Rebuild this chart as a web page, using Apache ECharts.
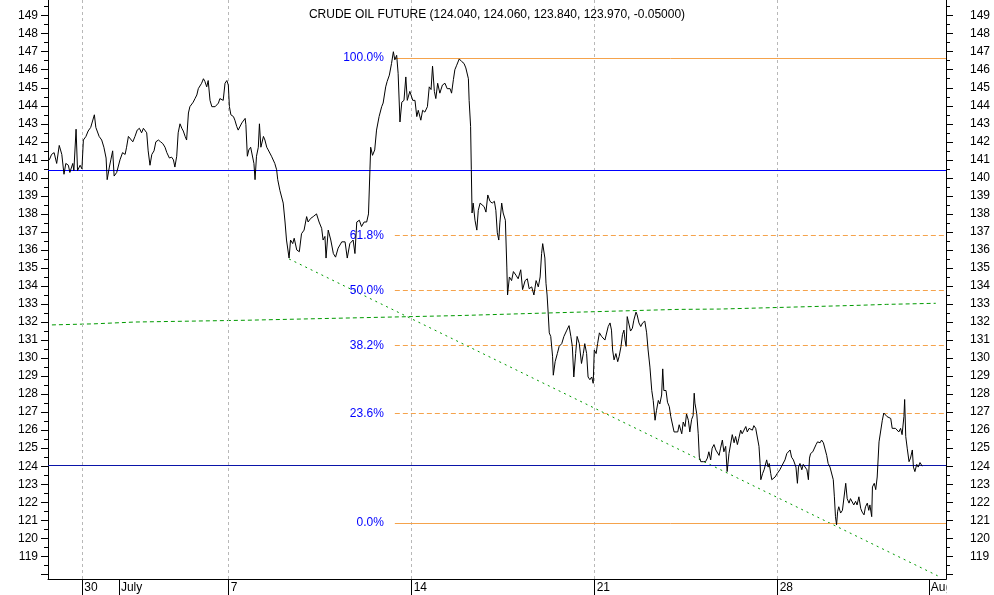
<!DOCTYPE html>
<html><head><meta charset="utf-8">
<script src="https://cdn.jsdelivr.net/npm/echarts@6/dist/echarts.min.js"></script>
<style>html,body{margin:0;padding:0;background:#fff}#c{width:994px;height:595px}</style>
</head><body><div id="c"></div>
<script>
// ---- data ----
const titleText = 'CRUDE OIL FUTURE (124.040, 124.060, 123.840, 123.970, -0.05000)';
// x unit: trading days, 0 = session of Mon 30 June
const tickDays = [0, 1, 4, 9, 14, 19, 23.13];
const tickLabels = ['30', 'July', '7', '14', '21', '28', 'Aug'];
const weekDays = [0, 4, 9, 14, 19];
const xMin = -0.937, xMax = 23.6;
const yMin = 117.74, yMax = 149.87;
const yMajorTicks = Array.from({length: 32}, (_, i) => 118 + i);      // 118..149
const yLabelValues = Array.from({length: 31}, (_, i) => 119 + i);     // 119..149
const yMinorTicks = Array.from({length: 32}, (_, i) => 118.5 + i);    // 118.5..149.5

const priceTimes = [
-0.90,-0.84,-0.77,-0.70,-0.63,-0.56,-0.50,-0.45,-0.38,-0.34,-0.26,-0.23,-0.17,-0.13,-0.06,-0.01,
0.03,0.10,0.16,0.23,0.28,0.33,0.37,0.42,0.46,0.53,0.59,0.65,0.68,0.74,0.78,0.83,0.87,0.94,0.98,
1.03,1.10,1.17,1.21,1.26,1.30,1.38,1.44,1.50,1.56,1.62,1.67,1.71,1.76,1.80,1.85,1.90,1.96,
2.01,2.08,2.14,2.20,2.26,2.31,2.38,2.44,2.49,2.53,2.58,2.62,2.67,2.72,2.76,2.81,2.85,2.90,2.94,2.99,
3.03,3.08,3.13,3.17,3.22,3.26,3.31,3.35,3.40,3.44,3.49,3.54,3.58,3.63,3.67,3.72,3.76,3.81,3.85,3.90,3.95,3.99,
4.02,4.06,4.13,4.17,4.22,4.26,4.31,4.36,4.40,4.45,4.47,4.51,4.55,4.60,4.64,4.69,4.72,4.76,4.81,4.84,4.88,4.95,4.99,
5.04,5.08,5.13,5.17,5.22,5.26,5.31,5.34,5.40,5.49,5.54,5.58,5.65,5.69,5.75,5.79,5.86,5.93,5.99,
6.06,6.13,6.17,6.24,6.31,6.40,6.47,6.54,6.58,6.63,6.66,6.72,6.79,6.86,6.92,6.99,
7.09,7.18,7.24,7.31,7.40,7.45,7.50,7.57,7.63,7.70,7.77,7.82,7.86,7.88,7.93,7.99,
8.04,8.11,8.18,8.22,8.29,8.33,8.39,8.45,8.50,8.54,8.59,8.63,8.68,8.73,8.79,8.84,8.88,8.95,
9.03,9.09,9.14,9.18,9.25,9.30,9.36,9.43,9.48,9.53,9.57,9.62,9.66,9.71,9.77,9.84,9.91,9.97,
10.05,10.09,10.14,10.18,10.23,10.30,10.37,10.43,10.48,10.55,10.57,10.61,10.63,10.65,10.68,10.73,10.78,10.82,10.87,10.91,10.98,
11.03,11.08,11.14,11.20,11.26,11.30,11.34,11.38,11.41,11.46,11.50,11.56,11.60,11.62,11.67,11.73,11.78,11.85,11.91,11.98,
12.03,12.10,12.16,12.21,12.28,12.34,12.40,12.46,12.51,12.55,12.58,12.64,12.67,12.70,12.73,12.76,12.80,12.85,12.87,12.92,12.98,
13.03,13.10,13.16,13.24,13.30,13.35,13.39,13.43,13.48,13.52,13.58,13.64,13.69,13.73,13.78,13.82,13.87,13.92,13.96,13.99,
14.04,14.08,14.13,14.19,14.24,14.28,14.33,14.37,14.42,14.46,14.49,14.53,14.58,14.63,14.67,14.72,14.76,14.80,14.83,14.86,14.89,14.94,14.98,
15.03,15.07,15.13,15.16,15.21,15.26,15.31,15.37,15.42,15.46,15.51,15.56,15.60,15.65,15.69,15.74,15.78,15.83,15.86,15.89,15.95,15.99,
16.04,16.08,16.13,16.17,16.22,16.27,16.31,16.38,16.42,16.47,16.51,16.56,16.60,16.65,16.69,16.72,16.74,16.79,16.83,16.86,16.90,16.97,
17.03,17.08,17.12,17.17,17.21,17.26,17.31,17.35,17.40,17.44,17.49,17.53,17.58,17.62,17.67,17.72,17.76,17.81,17.85,17.90,17.94,17.99,
18.03,18.08,18.13,18.17,18.22,18.26,18.31,18.35,18.40,18.44,18.49,18.52,18.54,18.59,18.63,18.67,18.70,18.74,18.77,18.81,18.84,18.88,18.93,18.99,
19.06,19.11,19.15,19.20,19.25,19.29,19.34,19.38,19.43,19.47,19.50,19.54,19.57,19.61,19.66,19.70,19.75,19.80,19.84,19.87,19.90,19.96,
20.00,20.05,20.09,20.16,20.20,20.25,20.29,20.34,20.38,20.43,20.47,20.52,20.55,20.58,20.61,20.64,20.67,20.72,20.77,20.81,20.86,20.90,20.95,20.99,
21.04,21.08,21.13,21.17,21.22,21.27,21.31,21.36,21.40,21.45,21.49,21.52,21.57,21.59,21.64,21.68,21.72,21.77,21.81,21.86,21.90,21.95,21.99,
22.04,22.09,22.13,22.18,22.22,22.27,22.31,22.36,22.40,22.45,22.47,22.50,22.54,22.59,22.63,22.68,22.71,22.75,22.80,22.84,22.89,22.95
];
const prices = [
141.0,141.3,141.4,140.8,141.8,141.3,140.2,140.8,140.7,140.3,140.8,140.4,142.7,140.4,140.7,140.5,
142.1,142.3,142.6,142.8,142.8,143.5,142.8,142.8,142.3,142.1,141.7,141.1,139.9,140.6,141.0,141.5,140.1,140.3,140.4,
141.0,141.4,141.3,141.7,142.3,142.4,142.0,142.3,142.65,142.75,142.5,142.75,142.65,142.5,141.5,140.7,141.3,141.5,
142.0,142.1,142.0,141.9,141.7,141.4,141.1,141.15,141.0,140.6,141.2,142.5,143.0,142.75,142.6,142.3,142.1,143.6,143.95,144.0,
144.2,144.4,144.6,144.95,145.05,145.25,145.5,145.35,145.05,145.4,144.3,143.95,143.85,143.95,143.85,144.15,144.4,144.5,144.3,145.25,145.4,145.15,
143.95,143.5,143.4,143.2,142.85,142.65,142.75,143.05,142.95,143.3,142.95,141.2,141.55,141.7,141.7,140.8,139.9,141.2,141.7,143.0,141.7,142.3,142.1,
141.7,141.55,141.5,141.2,141.3,140.8,140.45,139.9,139.3,138.6,137.55,136.55,135.55,136.55,136.35,136.65,136.0,135.9,136.9,
137.1,137.85,137.55,137.75,137.85,138.0,137.55,137.2,136.55,136.75,135.55,137.1,136.55,135.8,135.6,136.1,
136.45,136.45,135.55,136.35,136.55,135.8,137.55,137.65,137.3,137.55,137.55,138.0,140.45,141.7,141.25,141.55,
142.65,143.4,143.95,144.15,145.05,145.35,145.7,146.35,147.0,146.55,146.8,145.8,143.1,144.2,144.3,145.6,144.3,144.8,
144.3,144.3,143.4,143.75,143.2,143.75,143.65,143.95,145.05,144.9,146.2,144.8,144.4,145.25,144.7,145.15,145.25,144.95,
144.95,144.7,145.45,146.0,146.25,146.6,146.45,146.35,146.1,145.5,144.3,142.85,140.45,138.05,138.6,137.65,137.1,138.2,138.6,138.7,138.4,
138.1,139.05,138.7,138.6,138.7,138.2,136.95,136.55,137.5,138.6,138.05,137.65,135.05,133.5,134.5,134.3,134.8,134.6,134.4,134.9,
133.8,134.3,134.4,133.85,133.95,133.5,134.3,133.95,134.5,135.8,136.35,135.55,134.15,133.5,132.5,131.4,131.2,130.1,129.05,129.8,130.25,
130.65,130.8,131.2,131.55,131.8,131.2,130.65,128.95,130.25,131.2,130.8,129.7,130.25,130.8,130.25,128.95,128.8,128.95,128.6,130.45,
130.25,130.8,131.4,131.2,131.3,131.0,131.1,131.75,131.95,131.55,130.45,129.9,130.25,129.8,130.1,130.65,131.3,131.55,131.0,130.65,132.3,132.4,131.5,
131.65,132.1,132.55,132.4,131.95,131.75,131.95,132.05,131.4,130.45,129.5,128.2,127.65,126.55,127.1,127.65,127.45,127.95,129.4,128.2,128.2,127.55,
127.3,126.75,126.75,125.9,126.0,125.9,126.3,125.8,126.45,126.2,126.9,126.55,125.9,126.6,126.8,128.05,127.5,126.9,125.8,124.5,124.25,124.25,
124.25,124.45,124.8,124.35,125.0,125.2,124.9,124.8,124.6,125.0,125.45,124.8,125.1,123.7,124.7,124.8,125.75,125.3,125.65,125.2,125.55,126.0,
125.8,126.0,126.2,125.9,126.1,126.2,126.0,126.25,126.1,126.0,125.1,124.15,123.25,123.6,123.8,123.9,124.35,123.95,124.15,123.6,123.25,123.35,123.4,123.6,
123.8,124.0,124.1,124.35,124.7,124.8,124.9,124.5,124.35,124.45,123.95,123.05,123.95,124.15,123.8,124.1,124.15,123.8,123.25,124.45,124.7,124.8,
124.8,125.2,125.35,125.3,125.45,125.3,125.35,124.6,124.15,123.95,123.95,123.25,122.3,121.2,120.75,121.5,121.75,121.4,121.55,121.65,123.05,122.2,121.95,122.2,
122.3,121.85,122.05,121.85,122.3,121.65,121.45,121.3,121.75,121.95,121.55,121.85,121.2,122.85,123.05,122.7,123.4,125.35,125.45,126.55,126.95,126.95,126.75,
126.85,126.65,126.1,126.0,126.1,126.2,125.9,126.1,125.75,126.75,127.7,125.65,125.0,124.25,124.45,124.9,123.95,123.7,124.1,123.95,124.2,124.0
];

const maTimes  = [-0.83, 0.32, 1.44, 4.5, 7.18, 10.32, 12.51, 16.25, 17.42, 21.25, 21.98, 23.11, 23.32];
const maValues = [131.84, 131.9, 132.0, 132.1, 132.22, 132.36, 132.49, 132.70, 132.72, 132.93, 132.98, 133.03, 133.04];

const trendTimes  = [5.65, 23.37];
const trendValues = [135.5, 117.92];

const hLevels = [140.4, 124.04];
const hColors = ['#0000ff', '#0a14a8'];

const fibLow = 120.85, fibHigh = 146.65, fibStart = 8.54;
const fibRatios = [0, 0.236, 0.382, 0.5, 0.618, 1];
const fibLabels = ['0.0%', '23.6%', '38.2%', '50.0%', '61.8%', '100.0%'];
const fibDashed = [false, true, true, true, true, false];

// ---- chart ----
const FONT = 'Liberation Sans, Arial, sans-serif';
const zip = (a, b) => a.map((v, i) => [v, b[i]]);

const markData = [];
weekDays.forEach(d => markData.push({xAxis: d, lineStyle: {color: '#b8b8b8', type: [3, 3], width: 1}, label: {show: false}}));
fibRatios.forEach((r, i) => {
  const lvl = fibLow + (fibHigh - fibLow) * r;
  markData.push([
    {coord: [fibStart, lvl],
     lineStyle: {color: '#f5a34c', width: 1, type: fibDashed[i] ? [5, 3] : 'solid'},
     label: {show: true, position: 'start', distance: 11, formatter: fibLabels[i], color: '#0000ff', fontSize: 12, fontFamily: FONT}},
    {coord: [xMax, lvl]}
  ]);
});
hLevels.forEach((l, i) => markData.push({yAxis: l, lineStyle: {color: hColors[i], width: 1.2, type: 'solid'}, label: {show: false}}));

const yBase = {type: 'value', min: yMin, max: yMax, splitLine: {show: false},
  axisLine: {show: true, onZero: false, lineStyle: {color: '#000', width: 1}}};
const labelStyle = {color: '#000', fontSize: 12, fontFamily: FONT};

const chart = echarts.init(document.getElementById('c'), null, {renderer: 'canvas'});
chart.setOption({
  animation: false,
  backgroundColor: '#fff',
  title: {text: titleText, left: 'center', top: 4, textStyle: {fontSize: 12, fontWeight: 'normal', color: '#000', fontFamily: FONT}},
  grid: {left: 48, right: 48, top: 0, bottom: 16, containLabel: false, outerBoundsMode: 'none'},
  xAxis: {
    type: 'value', min: xMin, max: xMax,
    axisLine: {onZero: false, lineStyle: {color: '#000', width: 1}},
    axisTick: {customValues: tickDays, length: 16, lineStyle: {color: '#000'}},
    axisLabel: Object.assign({customValues: tickDays, align: 'left', margin: 3, padding: [0, 0, 0, 2],
      formatter: v => { let k = 0, best = 1e9; tickDays.forEach((t, i) => { if (Math.abs(t - v) < best) { best = Math.abs(t - v); k = i; } }); return tickLabels[k]; }
    }, labelStyle),
    splitLine: {show: false}
  },
  yAxis: [
    Object.assign({}, yBase, {position: 'left', axisTick: {customValues: yMajorTicks, length: 7, lineStyle: {color: '#000'}},
      axisLabel: Object.assign({customValues: yLabelValues, margin: 10}, labelStyle)}),
    Object.assign({}, yBase, {position: 'left', axisTick: {customValues: yMinorTicks, length: 4, lineStyle: {color: '#000'}}, axisLabel: {show: false}}),
    Object.assign({}, yBase, {position: 'right', axisTick: {customValues: yMajorTicks, length: 7, lineStyle: {color: '#000'}},
      axisLabel: Object.assign({customValues: yLabelValues, margin: 24}, labelStyle)}),
    Object.assign({}, yBase, {position: 'right', axisTick: {customValues: yMinorTicks, length: 4, lineStyle: {color: '#000'}}, axisLabel: {show: false}})
  ],
  series: [
    {type: 'line', name: 'MA', data: zip(maTimes, maValues), showSymbol: false, z: 3,
     lineStyle: {color: '#009a00', width: 1, type: [4, 3]},
     markLine: {silent: true, symbol: ['none', 'none'], animation: false, data: markData}},
    {type: 'line', name: 'trend', data: zip(trendTimes, trendValues), showSymbol: false, z: 3,
     lineStyle: {color: '#009a00', width: 1, type: [2, 4]}},
    {type: 'line', name: 'price', data: zip(priceTimes, prices), showSymbol: false, z: 5,
     lineStyle: {color: '#000', width: 1}}
  ],
  graphic: [{type: 'rect', shape: {x: 946.5, y: 580, width: 48, height: 15}, style: {fill: '#fff'}, z: 100, silent: true}]
});
</script>
</body></html>
